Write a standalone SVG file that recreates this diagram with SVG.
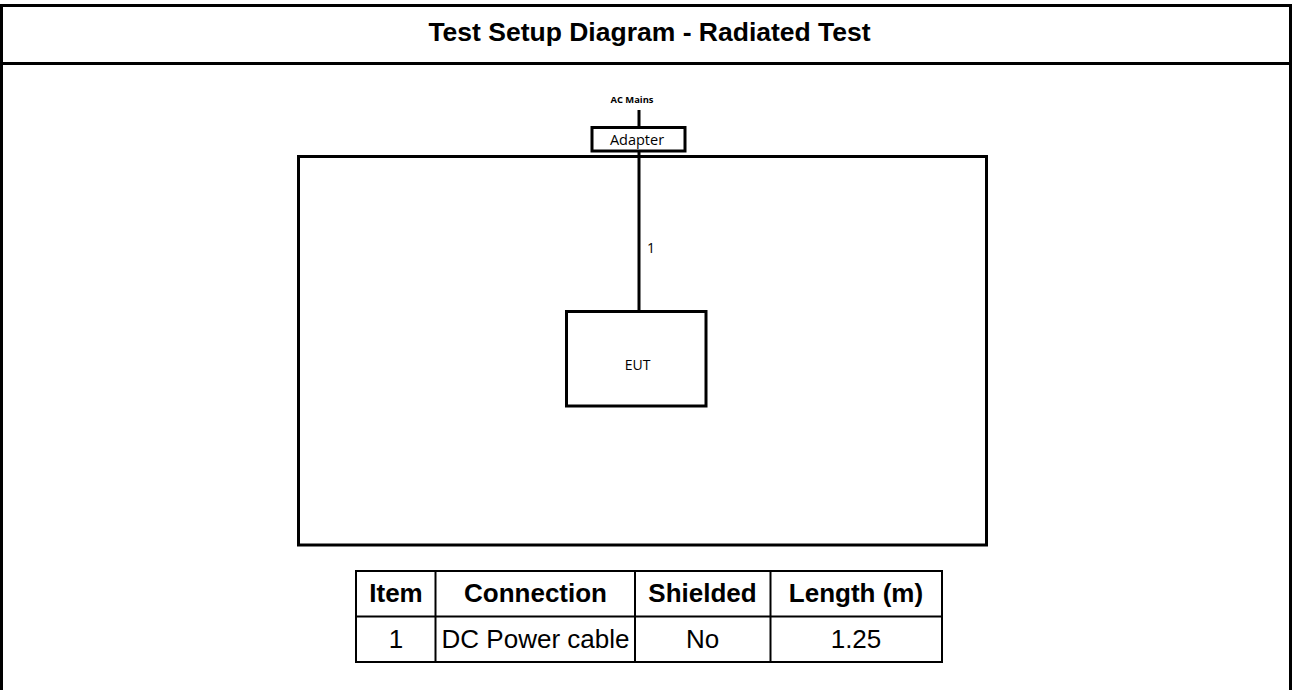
<svg xmlns="http://www.w3.org/2000/svg" width="1292" height="690" viewBox="0 0 1292 690">
  <style>
    .frame { fill: none; stroke: #000; stroke-width: 3; }
    .box { fill: #fff; stroke: #000; stroke-width: 3; }
    .wire { stroke: #000; stroke-width: 3; fill: none; }
    .grid { stroke: #000; stroke-width: 2; fill: none; }
    .title { font-family: "Liberation Sans", Arial, sans-serif; font-weight: bold; font-size: 26.5px; text-anchor: middle; fill: #000; }
    .lbl { font-family: "Open Sans", "Noto Sans", sans-serif; text-anchor: middle; fill: #000; }
    .th { font-family: "Liberation Sans", Arial, sans-serif; font-weight: bold; font-size: 26px; text-anchor: middle; fill: #000; }
    .td { font-family: "Liberation Sans", Arial, sans-serif; font-size: 26px; text-anchor: middle; fill: #000; }
  </style>
  <rect width="1292" height="690" fill="#fff"/>
  <g id="frame">
    <path class="frame" d="M1.5,700 V5.5 H1290.5 V700"/>
    <line class="frame" x1="0" y1="63.5" x2="1292" y2="63.5"/>
    <text class="title" x="649.5" y="41">Test Setup Diagram - Radiated Test</text>
  </g>
  <g id="connectors">
    <line class="wire" x1="639" y1="110" x2="639" y2="128"/>
    <line class="wire" x1="639" y1="151" x2="639" y2="311"/>
    <text class="lbl" x="651" y="252.5" font-size="14">1</text>
  </g>
  <g id="test-area">
    <rect class="frame" x="298.5" y="156.5" width="688" height="388.5"/>
  </g>
  <g id="ac-mains">
    <text class="lbl" x="632" y="103" font-size="9.4" font-weight="bold">AC Mains</text>
  </g>
  <g id="adapter">
    <rect class="box" x="592" y="127.5" width="93" height="23.5"/>
    <text class="lbl" x="637" y="144.5" font-size="14.5">Adapter</text>
  </g>
  <g id="eut">
    <rect class="box" x="566.5" y="311.5" width="139.5" height="94.5"/>
    <text class="lbl" x="637.5" y="370" font-size="14">EUT</text>
  </g>
  <g id="cable-table">
    <rect class="grid" x="356" y="571" width="586" height="91"/>
    <line class="grid" x1="356" y1="616.5" x2="942" y2="616.5"/>
    <line class="grid" x1="435.5" y1="571" x2="435.5" y2="662"/>
    <line class="grid" x1="635" y1="571" x2="635" y2="662"/>
    <line class="grid" x1="770.5" y1="571" x2="770.5" y2="662"/>
    <text class="th" x="396" y="602">Item</text>
    <text class="th" x="535.5" y="602">Connection</text>
    <text class="th" x="702.5" y="602">Shielded</text>
    <text class="th" x="856" y="602">Length (m)</text>
    <text class="td" x="396" y="648">1</text>
    <text class="td" x="535.5" y="648">DC Power cable</text>
    <text class="td" x="702.5" y="648">No</text>
    <text class="td" x="856" y="648">1.25</text>
  </g>
</svg>
